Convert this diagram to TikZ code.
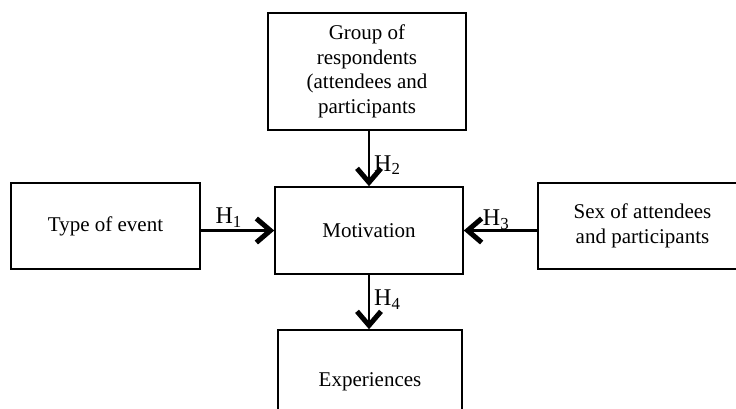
\documentclass[tikz,border=0pt]{standalone}
\usepackage{fontspec}
\setmainfont{Liberation Serif}
\usetikzlibrary{arrows.meta}
\begin{document}
\begin{tikzpicture}[x=1pt,y=-1pt,
  box/.style={draw, line width=1.6pt, inner sep=0pt, align=center,
    font=\fontsize{21}{24.5}\selectfont},
  arr/.style={line width=2.4pt, -{Straight Barb[length=14pt,width=24pt,line width=5pt]}},
  hlab/.style={font=\fontsize{24}{26}\selectfont, inner sep=2pt}]
\useasboundingbox (0,0) rectangle (736,408);
\node[box, minimum width=198pt, minimum height=117pt] (grp) at (367,71.5)
  {Group of\\respondents\\(attendees and\\participants};
\node[box, minimum width=189pt, minimum height=86pt] (typ) at (105.5,226) {Type of event};
\node[box, minimum width=188pt, minimum height=87pt] (mot) at (369,230.5) {Motivation};
\node[box, minimum width=209pt, minimum height=86pt] (sex) at (642.5,226)
  {Sex of attendees\\and participants};
\node[box, minimum width=184pt, minimum height=104pt] (exp) at (370,382) {Experiences};
\draw[arr] (grp.south -| mot) -- node[hlab, pos=0.62, anchor=west, xshift=2pt]{H\textsubscript{2}} (mot.north);
\draw[arr] (typ.east |- mot) -- node[hlab, pos=0.38, anchor=south, yshift=0pt]{H\textsubscript{1}} (mot.west);
\draw[arr] (sex.west |- mot) -- node[hlab, pos=0.56, anchor=south, yshift=-2pt]{H\textsubscript{3}} (mot.east);
\draw[arr] (mot.south) -- node[hlab, pos=0.45, anchor=west, xshift=2pt]{H\textsubscript{4}} (exp.north -| mot);
\end{tikzpicture}
\end{document}
